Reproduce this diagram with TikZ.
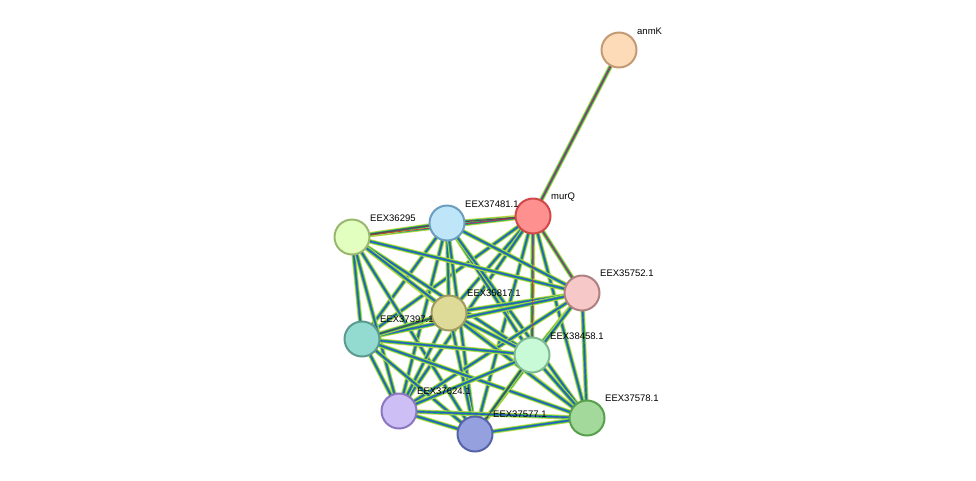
\documentclass[tikz,border=0pt]{standalone}
\usepackage{fontspec}
\setmainfont{Liberation Sans}
\begin{document}
\begin{tikzpicture}[x=1pt,y=-1pt,
  prot/.style={circle,draw,line width=2pt,minimum size=35pt,inner sep=0pt},
  lab/.style={font=\fontsize{9.5}{11}\selectfont,anchor=south west,inner sep=1pt},
  e1/.style={line width=4.6pt,draw={rgb,255:red,200;green,216;blue,74}},
  e2/.style={line width=2.9pt,draw={rgb,255:red,40;green,190;blue,80}},
  e3/.style={line width=1.4pt,draw={rgb,255:red,50;green,70;blue,220}},
  e4/.style={line width=0.6pt,draw={rgb,255:red,230;green,40;blue,40}},
  e5/.style={line width=1.0pt,draw=black!70}]
\useasboundingbox (0,0) rectangle (976,480);
\coordinate (anmK) at (619,50);
\coordinate (murQ) at (533,216);
\coordinate (a481) at (447,223);
\coordinate (a295) at (352,237);
\coordinate (a752) at (582,293);
\coordinate (a817) at (449,313);
\coordinate (a397) at (362,339);
\coordinate (a458) at (532,355);
\coordinate (a624) at (399,411);
\coordinate (a577) at (475,434);
\coordinate (a578) at (587,418);
% edges
\foreach \u/\v in {murQ/a481,murQ/a295,murQ/a752,murQ/a817,murQ/a397,murQ/a458,murQ/a624,murQ/a577,murQ/a578,
 a481/a295,a481/a752,a481/a817,a481/a397,a481/a458,a481/a624,a481/a577,a481/a578,
 a295/a752,a295/a817,a295/a397,a295/a458,a295/a624,a295/a577,a295/a578,
 a752/a817,a752/a397,a752/a458,a752/a624,a752/a577,a752/a578,
 a817/a397,a817/a458,a817/a624,a817/a577,a817/a578,
 a397/a458,a397/a624,a397/a577,a397/a578,
 a458/a624,a458/a577,a458/a578,
 a624/a577,a624/a578,a577/a578}
 {\draw[e1] (\u) -- (\v); \draw[e2] (\u) -- (\v); \draw[e3,opacity=0.85] (\u) -- (\v);}
\foreach \u/\v in {anmK/murQ,murQ/a481,murQ/a295,murQ/a752,murQ/a458,a481/a295}
 {\draw[e4] (\u) -- (\v);}
\foreach \u/\v in {murQ/a481,a481/a295,a817/a397,a458/a577}
 {\draw[e5] (\u) -- (\v);}
\draw[e1] (anmK) -- (murQ); \draw[e2] (anmK) -- (murQ); \draw[e3] (anmK) -- (murQ); \draw[e4] (anmK) -- (murQ);
% nodes
\node[prot,fill={rgb,255:red,253;green,219;blue,184},draw={rgb,255:red,196;green,154;blue,116}] (nanmK) at (anmK) {};
\node[prot,fill={rgb,255:red,255;green,144;blue,144},draw={rgb,255:red,208;green,72;blue,72}] (nmurQ) at (murQ) {};
\node[prot,fill={rgb,255:red,191;green,230;blue,248},draw={rgb,255:red,106;green,157;blue,191}] (n481) at (a481) {};
\node[prot,fill={rgb,255:red,227;green,255;blue,191},draw={rgb,255:red,154;green,183;blue,112}] (n295) at (a295) {};
\node[prot,fill={rgb,255:red,246;green,200;blue,200},draw={rgb,255:red,176;green,128;blue,128}] (n752) at (a752) {};
\node[prot,fill={rgb,255:red,222;green,219;blue,152},draw={rgb,255:red,160;green,154;blue,94}] (n817) at (a817) {};
\node[prot,fill={rgb,255:red,147;green,219;blue,208},draw={rgb,255:red,92;green,154;blue,143}] (n397) at (a397) {};
\node[prot,fill={rgb,255:red,200;green,250;blue,216},draw={rgb,255:red,125;green,187;blue,142}] (n458) at (a458) {};
\node[prot,fill={rgb,255:red,205;green,190;blue,245},draw={rgb,255:red,140;green,118;blue,192}] (n624) at (a624) {};
\node[prot,fill={rgb,255:red,149;green,160;blue,222},draw={rgb,255:red,85;green,99;blue,168}] (n577) at (a577) {};
\node[prot,fill={rgb,255:red,163;green,217;blue,154},draw={rgb,255:red,88;green,160;blue,78}] (n578) at (a578) {};
% labels
\node[lab] (lanmK) at ([shift={(17,-14)}]anmK) {anmK};
\node[lab] (lmurQ) at ([shift={(17,-14)}]murQ) {murQ};
\node[lab] (l481) at ([shift={(17,-14)}]a481) {EEX37481.1};
\node[lab] (l295) at ([shift={(17,-14)}]a295) {EEX36295};
\node[lab] (l752) at ([shift={(17,-15)}]a752) {EEX35752.1};
\node[lab] (l817) at ([shift={(17,-15)}]a817) {EEX35817.1};
\node[lab] (l397) at ([shift={(17,-15)}]a397) {EEX37397.1};
\node[lab] (l458) at ([shift={(17,-14)}]a458) {EEX38458.1};
\node[lab] (l624) at ([shift={(17,-15)}]a624) {EEX37624.1};
\node[lab] (l577) at ([shift={(17,-15)}]a577) {EEX37577.1};
\node[lab] (l578) at ([shift={(17,-15)}]a578) {EEX37578.1};
\end{tikzpicture}
\end{document}
